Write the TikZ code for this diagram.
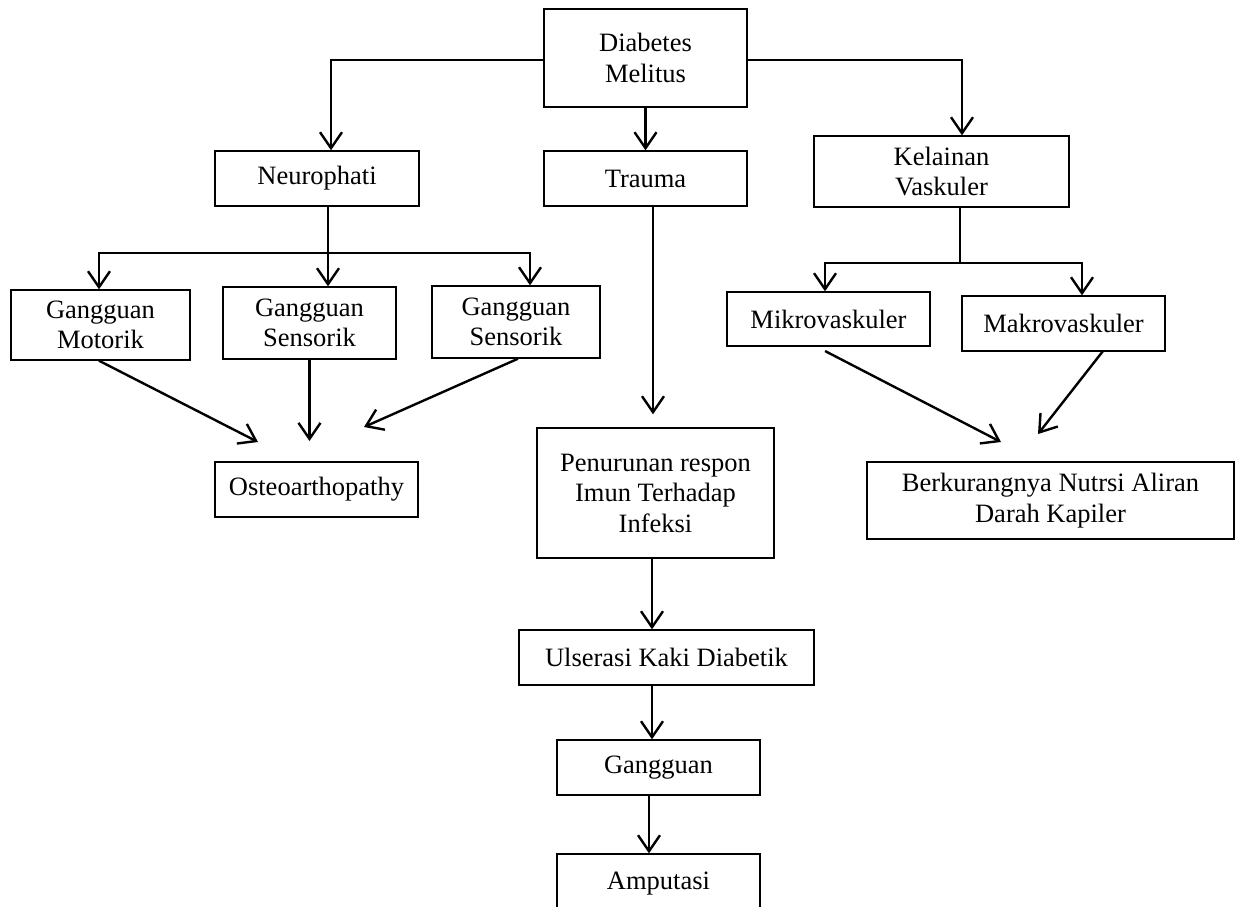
\documentclass[tikz,border=0pt]{standalone}
\usepackage{fontspec}
\setmainfont{Liberation Serif}
\usetikzlibrary{arrows.meta}
\begin{document}
\begin{tikzpicture}[x=1pt,y=-1pt,
  box/.style={draw,line width=1.4pt,inner sep=0pt,align=center,
    font=\fontsize{26.5}{30.5}\selectfont},
  conn/.style={line width=2.4pt},
  arr/.style={conn,-{Straight Barb[length=16pt,width=22pt,line width=2.4pt]}}]
\useasboundingbox (0,0) rectangle (1236,906);
\clip (0,0) rectangle (1236,906);
\fill[white] (0,0) rectangle (1236,906);
% nodes
\node[box,minimum width=203,minimum height=98] (dm) at (645.5,58) {Diabetes\\Melitus};
\node[box,minimum width=204,minimum height=55] (neu) at (317,178.5) {Neurophati};
\node[box,minimum width=203,minimum height=55] (tra) at (645.5,178.5) {Trauma};
\node[box,minimum width=255,minimum height=71] (kel) at (941.5,171.5) {Kelainan\\Vaskuler};
\node[box,minimum width=179,minimum height=70] (mot) at (100.5,325) {Gangguan\\Motorik};
\node[box,minimum width=173,minimum height=72] (sen1) at (309.5,323) {Gangguan\\Sensorik};
\node[box,minimum width=168,minimum height=72] (sen2) at (516,322) {Gangguan\\Sensorik};
\node[box,minimum width=203,minimum height=54] (mik) at (828.5,319) {Mikrovaskuler};
\node[box,minimum width=203,minimum height=55] (mak) at (1063.5,323.5) {Makrovaskuler};
\node[box,minimum width=203,minimum height=55] (ost) at (316.5,489.5) {Osteoarthopathy};
\node[box,minimum width=237,minimum height=130] (pen) at (655.5,493) {Penurunan respon\\Imun Terhadap\\Infeksi};
\node[box,minimum width=367,minimum height=77] (ber) at (1050.5,500.5) {Berkurangnya Nutrsi Aliran\\Darah Kapiler};
\node[box,minimum width=295,minimum height=55] (uls) at (666.5,657.5) {Ulserasi Kaki Diabetik};
\node[box,minimum width=203,minimum height=55] (gan) at (658.5,767.5) {Gangguan};
\node[box,minimum width=203,minimum height=60] (amp) at (658.5,884) {Amputasi};
% free ends
\coordinate (t1) at (258,442);
\coordinate (t2) at (309.5,441);
\coordinate (t3) at (364,427);
\coordinate (t4) at (1001,442);
\coordinate (t5) at (1038,434);
\coordinate (s1) at (825,351);
\coordinate (s2) at (1103,351);
% connectors
\draw[arr] ([yshift=-2pt]dm.west) -| ([xshift=14]neu.north);
\draw[arr] ([yshift=-2pt]dm.east) -| ([xshift=20.5]kel.north);
\draw[arr] (dm.south) -- (tra.north);
\draw[conn] ([xshift=11]neu.south) -- ++(0,46) coordinate (nj);
\draw[arr] (nj) -- (nj |- sen1.north);
\draw[arr] (nj) -| ([xshift=-1.5]mot.north);
\draw[arr] (nj) -| ([xshift=14]sen2.north);
\draw[conn] ([xshift=18.5]kel.south) -- ++(0,55) coordinate (kj);
\draw[arr] (kj) -| ([xshift=-3.5]mik.north);
\draw[arr] (kj) -| ([xshift=18.5]mak.north);
\draw[arr] ([xshift=-1.5]mot.south) -- (t1);
\draw[arr] (sen1.south) -- (t2);
\draw[arr] ([xshift=2]sen2.south) -- (t3);
\draw[arr] (s1) -- (t4);
\draw[arr] (s2) -- (t5);
\draw[arr,shorten >=13pt] ([xshift=7.5]tra.south) -- ([xshift=-2.5]pen.north);
\draw[arr] ([xshift=-3.5]pen.south) -- ([xshift=-14.5]uls.north);
\draw[arr] ([xshift=-14.5]uls.south) -- ([xshift=-6.5]gan.north);
\draw[arr] ([xshift=-9.5]gan.south) -- ([xshift=-9.5]amp.north);
\end{tikzpicture}
\end{document}
